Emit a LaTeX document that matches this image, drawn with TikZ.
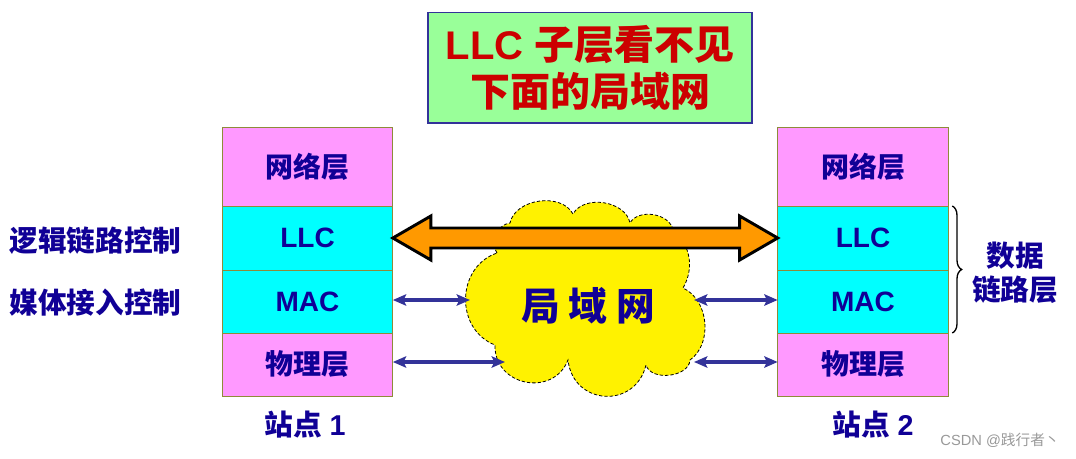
\documentclass[tikz,border=0pt]{standalone}
\usepackage{fontspec}
\setmainfont{Liberation Sans}
\newfontfamily\cjk{Noto Sans CJK SC}
\usetikzlibrary{positioning,calc,arrows.meta,decorations.pathreplacing}

\definecolor{layerpink}{HTML}{FF99FF}
\definecolor{layercyan}{HTML}{00FFFF}
\definecolor{titlegreen}{HTML}{99FF99}
\definecolor{titlered}{HTML}{CC0000}
\definecolor{textblue}{HTML}{100096}
\definecolor{linkblue}{HTML}{333399}
\definecolor{arroworange}{HTML}{FF9900}

\tikzset{
    % les couches de la pile protocolaire
    layer_base/.style={
        draw=olive!60!gray,
        line width=0.6pt,
        minimum width=128pt,
        inner sep=0pt,
        outer sep=0pt,
        text=textblue,
        font=\fontsize{21}{24}\selectfont\bfseries
    },
    layer_pink/.style={layer_base, fill=layerpink},
    layer_cyan/.style={layer_base, fill=layercyan},
    % textes a cote des piles
    side_label/.style={
        text=textblue,
        font=\fontsize{21.5}{25.5}\selectfont\bfseries,
        align=center
    },
    % le nuage du reseau local
    lan_cloud/.style={
        fill=yellow,
        draw=black,
        line width=0.6pt,
        dash pattern=on 2.5pt off 1.5pt
    },
    % la grosse fleche LLC <-> LLC
    big_arrow/.style={
        fill=arroworange,
        draw=black,
        line width=2.2pt,
        line join=miter
    },
    % les petites fleches bleues
    link_arrow/.style={
        draw=linkblue,
        line width=2.4pt,
        arrows={Stealth[length=10pt,width=8.5pt,inset=2pt]-Stealth[length=10pt,width=8.5pt,inset=2pt]}
    }
}

\begin{document}
\begin{tikzpicture}[x=0.75pt,y=-0.75pt]
    \useasboundingbox (0,0) rectangle (1076,458);

    % --- 1. Titre ---
    \node[draw=linkblue, line width=1pt, fill=titlegreen, minimum width=243pt,
          minimum height=83pt, align=center, text=titlered,
          font=\fontsize{30}{35}\selectfont\bfseries] (title) at (590,67.5)
        {LLC {\cjk 子层看不见}\\{\cjk 下面的局域网}};

    % --- 2. Le nuage (dessine avant les fleches) ---
    \draw[lan_cloud] (497,253) to[bend left=60] (510,223)
        to[bend left=70] (573,214) to[bend left=70] (630,223)
        to[bend left=70] (673,230) to[bend left=40] (683,288)
        to[bend left=60] (690,360) to[bend left=80] (646,365)
        to[bend left=80,looseness=1.5] (568,360)
        to[bend left=80,looseness=1.4] (495,345)
        to[bend left=70,looseness=1.2] cycle;
    \node[text=textblue, font=\fontsize{29}{32}\selectfont\bfseries\cjk] (lanText) at (588,306)
        {局 域 网};

    % --- 3. Les deux piles ---
    % Station 1 (gauche)
    \node[layer_pink, minimum height=59.25pt] (netL) at (307.5,166.5) {\cjk 网络层};
    \node[layer_cyan, minimum height=48pt, below=0pt of netL] (llcL) {LLC};
    \node[layer_cyan, minimum height=47.25pt, below=0pt of llcL] (macL) {MAC};
    \node[layer_pink, minimum height=47.25pt, below=0pt of macL] (phyL) {\cjk 物理层};

    % Station 2 (droite)
    \node[layer_pink, minimum height=59.25pt] (netR) at (863,166.5) {\cjk 网络层};
    \node[layer_cyan, minimum height=48pt, below=0pt of netR] (llcR) {LLC};
    \node[layer_cyan, minimum height=47.25pt, below=0pt of llcR] (macR) {MAC};
    \node[layer_pink, minimum height=47.25pt, below=0pt of macR] (phyR) {\cjk 物理层};

    \node[side_label] (siteL) at (305,425) {{\cjk 站点} 1};
    \node[side_label] (siteR) at (873,425) {{\cjk 站点} 2};

    % --- 4. Textes lateraux ---
    \node[side_label, left=27pt of llcL, yshift=-2pt] (llcName) {\cjk 逻辑链路控制};
    \node[side_label, left=27pt of macL, yshift=-1pt] (macName) {\cjk 媒体接入控制};

    \draw[line width=1pt, decorate, decoration={brace, amplitude=7pt}]
        ([xshift=3pt]llcR.north east) -- ([xshift=3pt]macR.south east);
    \node[side_label, font=\fontsize{21.5}{25.5}\selectfont\bfseries\cjk] (dllName) at (1015,273)
        {数据\\链路层};

    % --- 5. Fleches ---
    \draw[big_arrow] (llcL.east) -- ++(38,-22) -- ++(0,12)
        -- ($(llcR.west)+(-38,-10)$) -- ++(0,-12) -- (llcR.west)
        -- ++(-38,22) -- ++(0,-12) -- ($(llcL.east)+(38,10)$) -- ++(0,12) -- cycle;

    \coordinate (lanMacL) at (470,300);
    \coordinate (lanMacR) at (694,300);
    \coordinate (lanPhyL) at (505,362);
    \coordinate (lanPhyR) at (694,362);
    \draw[link_arrow] (macL.east |- lanMacL) -- (lanMacL);
    \draw[link_arrow] (lanMacR) -- (macR.west |- lanMacR);
    \draw[link_arrow] (phyL.east |- lanPhyL) -- (lanPhyL);
    \draw[link_arrow] (lanPhyR) -- (phyR.west |- lanPhyR);

    % filigrane
    \node[text=gray!80, font=\fontsize{11}{13}\selectfont] (mark) at (1000,440)
        {CSDN @{\cjk 践行者丶}};
\end{tikzpicture}
\end{document}
